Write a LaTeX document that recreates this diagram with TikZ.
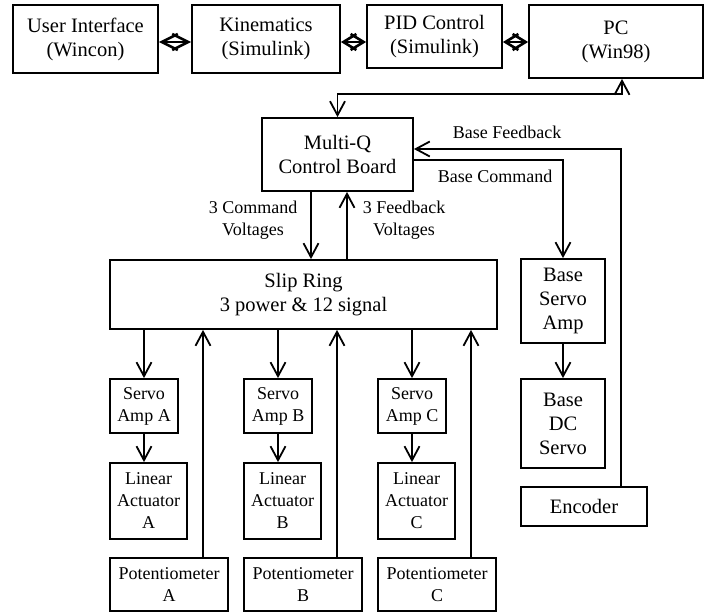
\documentclass[tikz,border=0pt]{standalone}
\usepackage{fontspec}
\setmainfont{Liberation Serif}
\usetikzlibrary{arrows.meta, positioning, calc}

\begin{document}
\begin{tikzpicture}[x=0.5pt,y=-0.5pt,
    font=\fontsize{9}{11}\selectfont,
    box/.style={draw,line width=0.9pt,align=center,inner sep=0pt},
    big/.style={font=\fontsize{10.25}{12}\selectfont},
    lbl/.style={align=center,inner sep=0pt},
    arr/.style={-{Straight Barb[length=7pt,width=7.5pt]},line width=0.9pt},
    arrs/.style={{Straight Barb[length=7pt,width=7.5pt]}-{Straight Barb[length=7pt,width=7.5pt]},line width=0.9pt},
    dbl/.style={{Straight Barb[length=#1,width=8pt]}-{Straight Barb[length=#1,width=8pt]},line width=1.3pt},
    dbl/.default=6.5pt
  ]
    \useasboundingbox (0,0) rectangle (704,612);
    % top row
    \node[box,big,minimum width=72.5pt,minimum height=34pt] (ui) at (85.5,39) {User Interface\\(Wincon)};
    \node[box,big,minimum width=74pt,minimum height=34pt] (kin) at (266,39) {Kinematics\\(Simulink)};
    \node[box,big,minimum width=67.5pt,minimum height=31.5pt] (pid) at (434.5,36.5) {PID Control\\(Simulink)};
    \node[box,big,minimum width=87pt,minimum height=36.5pt] (pc) at (616,41.5) {PC\\(Win98)};
    \draw[dbl=8pt] (ui.east |- 0,42) -- (kin.west |- 0,42);
    \draw[dbl] (kin.east |- 0,42) -- (pid.west |- 0,42);
    \draw[dbl] (pid.east |- 0,42) -- (pc.west |- 0,42);

    % board and slip ring
    \node[box,big,minimum width=75.5pt,minimum height=36.5pt] (mq) at (337.5,154.5) {Multi-Q\\Control Board};
    \node[box,big,minimum width=193.5pt,minimum height=34.5pt] (slip) at (303.5,294.5) {Slip Ring\\3 power \& 12 signal};
    \draw[arrs] (mq.north) -- ++(0,-23) -| ([xshift=3pt]pc.south);
    \draw[arr] ([xshift=-13.25pt]mq.south) -- ([xshift=-13.25pt]mq.south |- slip.north);
    \draw[arr] ([xshift=4.75pt]mq.south |- slip.north) -- ([xshift=4.75pt]mq.south);
    \node[lbl] (cmdv) at (253,220) {3 Command\\Voltages};
    \node[lbl] (fbv) at (404,220) {3 Feedback\\Voltages};

    % actuator chains
    \foreach \n/\x in {a/144,b/278,c/412}{
      \node[box,minimum width=34pt,minimum height=27pt] (s\n) at (\x,406) {Servo\\Amp \MakeUppercase{\n}};
      \node[box,minimum width=38.5pt,minimum height=38pt] (l\n) at (\x+4.5,501) {Linear\\Actuator\\\MakeUppercase{\n}};
      \node[box,minimum width=59pt,minimum height=26.5pt] (p\n) at (\x+25,584.5) {Potentiometer\\\MakeUppercase{\n}};
      \draw[arr] (s\n.north |- slip.south) -- (s\n.north);
      \draw[arr] (s\n.south) -- (s\n.south |- l\n.north);
      \draw[arr] ([xshift=17pt]p\n.north) -- ([xshift=17pt]p\n.north |- slip.south);
    }

    % base axis
    \node[box,big,minimum width=42pt,minimum height=42pt] (bsa) at (563,301) {Base\\Servo\\Amp};
    \node[box,big,minimum width=42pt,minimum height=44.5pt] (bdc) at (563,423.5) {Base\\DC\\Servo};
    \node[box,big,minimum width=63pt,minimum height=19.5pt] (enc) at (584,506.5) {Encoder};
    \draw[arr] ([yshift=-2.75pt]mq.east) -| (bsa.north);
    \draw[arr] (bsa.south) -- (bdc.north);
    \draw[arr] ([xshift=18.5pt]enc.north) |- ([yshift=2.75pt]mq.east);
    \node[lbl] (bfb) at (507,132) {Base Feedback};
    \node[lbl] (bcmd) at (495,176) {Base Command};
\end{tikzpicture}
\end{document}
